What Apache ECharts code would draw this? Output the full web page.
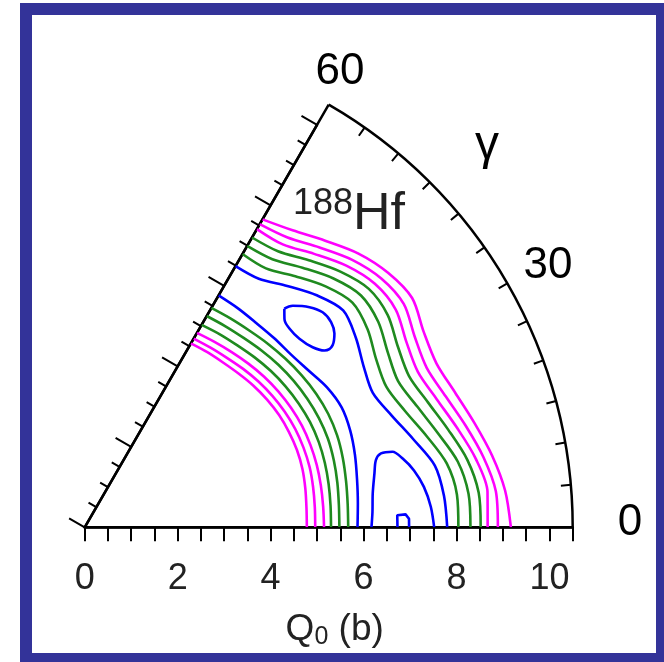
<!DOCTYPE html>
<html><head><meta charset="utf-8">
<script src="https://cdn.jsdelivr.net/npm/echarts@6/dist/echarts.min.js"></script>
<style>html,body{margin:0;padding:0;background:#fff}#c{width:664px;height:662px}</style>
</head><body><div id="c"></div>
<script>
// ---- data (Q0 in barn, gamma in degrees) ----
const gammaDeg = [0, 5, 10, 15, 20, 25, 30, 35, 40, 45, 50, 55, 60];
// inner (low-Q0) bundle, Q0 value at each gamma
const inMag1 = [4.78, 4.79, 4.82, 4.85, 4.86, 4.85, 4.83, 4.79, 4.74, 4.68, 4.63, 4.60, 4.57];
const inMag2 = [4.96, 4.97, 4.99, 5.01, 5.01, 5.00, 4.97, 4.93, 4.88, 4.82, 4.76, 4.72, 4.69];
const inMag3 = [5.15, 5.15, 5.16, 5.17, 5.17, 5.16, 5.13, 5.09, 5.04, 4.98, 4.92, 4.87, 4.83];
const inGrn1 = [5.30, 5.31, 5.33, 5.35, 5.36, 5.35, 5.32, 5.28, 5.23, 5.17, 5.11, 5.07, 5.03];
const inGrn2 = [5.48, 5.49, 5.52, 5.55, 5.57, 5.56, 5.53, 5.49, 5.44, 5.38, 5.32, 5.28, 5.25];
const inGrn3 = [5.67, 5.68, 5.71, 5.75, 5.78, 5.78, 5.75, 5.70, 5.64, 5.58, 5.52, 5.48, 5.45];
const inBlue = [5.87, 5.90, 5.95, 6.02, 6.08, 6.10, 6.02, 5.88, 5.79, 5.76, 5.74, 5.75, 5.76];
// outer (high-Q0) bundle
const outBlue = [7.80, 7.76, 7.65, 7.32, 7.03, 6.84, 6.93, 7.12, 7.26, 7.06, 6.78, 6.53, 6.49];
const outGrn1 = [8.04, 8.04, 7.91, 7.61, 7.33, 7.16, 7.24, 7.43, 7.52, 7.33, 7.05, 6.80, 6.79];
const outGrn2 = [8.30, 8.29, 8.15, 7.86, 7.61, 7.44, 7.53, 7.71, 7.76, 7.57, 7.29, 7.04, 6.99];
const outGrn3 = [8.52, 8.51, 8.36, 8.10, 7.86, 7.70, 7.78, 7.96, 7.98, 7.78, 7.50, 7.25, 7.20];
const outMag1 = [8.67, 8.70, 8.54, 8.29, 8.06, 7.91, 7.99, 8.17, 8.15, 7.96, 7.68, 7.43, 7.41];
const outMag2 = [8.89, 8.88, 8.71, 8.48, 8.26, 8.12, 8.20, 8.38, 8.33, 8.14, 7.86, 7.61, 7.53];
const outMag3 = [9.17, 9.08, 8.90, 8.68, 8.48, 8.35, 8.42, 8.60, 8.52, 8.33, 8.05, 7.80, 7.65];
// closed / partial blue contours
const ovalQ0    = [6.37, 6.54, 6.77, 6.90, 6.90, 6.80, 6.62, 6.41, 6.25, 6.15, 6.14, 6.21, 6.37];
const ovalGamma = [47.6, 46.8, 44.4, 42.1, 39.8, 37.8, 36.3, 36.4, 38.3, 41.3, 44.1, 46.2, 47.6];
const archQ0    = [6.17, 6.20, 6.24, 6.34, 6.43, 6.57, 6.82, 7.00, 7.19, 7.35, 7.46, 7.52];
const archGamma = [0, 3, 6.7, 10.5, 13.0, 14.0, 13.8, 12.2, 9.8, 6.8, 3.4, 0];
const tinyQ0    = [6.73, 6.73, 6.91, 6.98, 6.98];
const tinyGamma = [0, 2.2, 2.3, 1.5, 0];
// tick labels
const q0Labels = [0, 2, 4, 6, 8, 10];
const gammaLabels = ['0', '30', '60'];

// ---- layout / style ----
const FONT = "'Liberation Sans', Arial, Helvetica, sans-serif";
const CX = 84.7, CY = 527.3, R = 488;
const MAG = '#ff00ff', GRN = '#1f8a1f', BLU = '#0000ff';
const LW = 2.6;
const gammaLabelPos = [[630, 523], [548, 266], [340, 72]];

const chart = echarts.init(document.getElementById('c'), null, {renderer: 'canvas'});

function sweep(name, rs, color) {
  return {
    type: 'line', name, coordinateSystem: 'polar', polarIndex: 0,
    data: gammaDeg.map((g, i) => [rs[i], g]),
    symbol: 'none', smooth: 0.3, clip: false, silent: true,
    lineStyle: {color, width: LW}
  };
}
function loop(name, qs, gs, color, smooth) {
  return {
    type: 'line', name, coordinateSystem: 'polar', polarIndex: 0,
    data: qs.map((q, i) => [q, gs[i]]),
    symbol: 'none', smooth: smooth, clip: false, silent: true,
    lineStyle: {color, width: LW}
  };
}

const series = [
  sweep('inMag1', inMag1, MAG), sweep('inMag2', inMag2, MAG), sweep('inMag3', inMag3, MAG),
  sweep('inGrn1', inGrn1, GRN), sweep('inGrn2', inGrn2, GRN), sweep('inGrn3', inGrn3, GRN),
  sweep('inBlue', inBlue, BLU),
  sweep('outBlue', outBlue, BLU),
  sweep('outGrn1', outGrn1, GRN), sweep('outGrn2', outGrn2, GRN), sweep('outGrn3', outGrn3, GRN),
  sweep('outMag1', outMag1, MAG), sweep('outMag2', outMag2, MAG), sweep('outMag3', outMag3, MAG),
  loop('oval', ovalQ0, ovalGamma, BLU, 0.4),
  loop('arch', archQ0, archGamma, BLU, 0.3),
  loop('tiny', tinyQ0, tinyGamma, BLU, false)
];

const graphics = [
  {type: 'rect', shape: {x: 26, y: 9, width: 636, height: 650},
   style: {fill: 'none', stroke: '#333399', lineWidth: 12}, z: 100},
  {type: 'text', x: 293, y: 244,
   style: {text: '{a|188}{b|Hf}', align: 'left', verticalAlign: 'bottom',
     rich: {a: {fontSize: 36, fontFamily: FONT, fill: '#222', padding: [0, 0, 22, 0]},
            b: {fontSize: 52, fontFamily: FONT, fill: '#222'}}}},
  {type: 'text', x: 487, y: 146,
   style: {text: 'γ', fontSize: 48, fontFamily: FONT, fill: '#000', align: 'center', verticalAlign: 'middle'}}
];
gammaLabels.forEach((t, i) => graphics.push({
  type: 'text', x: gammaLabelPos[i][0], y: gammaLabelPos[i][1],
  style: {text: t, fontSize: 44, fontFamily: FONT, fill: '#000', align: 'center', verticalAlign: 'middle'}
}));

chart.setOption({
  animation: false,
  backgroundColor: '#fff',
  polar: [{center: [CX, CY], radius: R}, {center: [CX, CY], radius: R * 10 / 10.5}],
  angleAxis: [
    {polarIndex: 0, type: 'value', min: 0, max: 60, startAngle: 0, endAngle: 60, clockwise: false, interval: 60,
     axisLine: {show: true, lineStyle: {color: '#000', width: 2.5}},
     axisTick: {show: false, inside: true},
     minorTick: {show: true, splitNumber: 12, length: 10, lineStyle: {color: '#000', width: 2}},
     axisLabel: {show: false},
     splitLine: {show: true, lineStyle: {color: '#000', width: 2.5}}},
    {polarIndex: 1, type: 'value', min: 0, max: 60, startAngle: 60, endAngle: 0, clockwise: true, show: false}
  ],
  radiusAxis: [
    {polarIndex: 0, type: 'value', min: 0, max: 10.5, interval: 0.5,
     axisLine: {show: true, lineStyle: {color: '#000', width: 2.5}},
     axisTick: {show: true, length: -14, lineStyle: {color: '#000', width: 2}},
     axisLabel: {show: true, margin: -70, fontSize: 36, fontFamily: FONT, color: '#222',
       formatter: v => q0Labels.indexOf(v) >= 0 ? String(v) : ''},
     splitLine: {show: false},
     name: '{q|Q}{s|0}{q| (b)}', nameLocation: 'middle', nameGap: 84,
     nameTextStyle: {padding: [0, 0, 0, 12],
                     rich: {q: {fontSize: 37, fontFamily: FONT, color: '#222', padding: [0, 0, 14, 0]},
                            s: {fontSize: 25, fontFamily: FONT, color: '#222'}}}},
    {polarIndex: 1, type: 'value', min: 0, max: 10, interval: 2,
     axisLine: {show: true, lineStyle: {color: '#000', width: 2.5}},
     axisTick: {show: true, length: 18, lineStyle: {color: '#000', width: 2}},
     minorTick: {show: true, splitNumber: 4, length: 9, lineStyle: {color: '#000', width: 2}},
     axisLabel: {show: false},
     splitLine: {show: false}}
  ],
  graphic: graphics,
  series
});
</script></body></html>
